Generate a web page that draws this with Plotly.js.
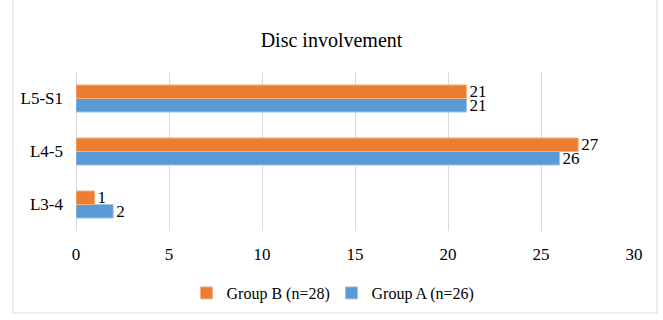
<!DOCTYPE html>
<html>
<head>
<meta charset="utf-8">
<script src="https://cdn.plot.ly/plotly-3.0.1.min.js"></script>
<style>
  html, body { margin: 0; padding: 0; background: #fff; }
  #chart { width: 663px; height: 320px; }
</style>
</head>
<body>
<div id="chart"></div>
<script>
const categories = ['L3-4', 'L4-5', 'L5-S1'];
const groupA = [2, 26, 21];   // Group A (n=26)
const groupB = [1, 27, 21];   // Group B (n=28)
const seriesNames = ['Group A (n=26)', 'Group B (n=28)'];
const xTicks = [0, 5, 10, 15, 20, 25, 30];
const chartTitle = 'Disc involvement';

const serif = 'Times New Roman';

const traces = [
  {
    type: 'bar', orientation: 'h',
    name: seriesNames[0],
    y: categories, x: groupA,
    marker: { color: '#5B9BD5', line: { color: '#9DC3E6', width: 1 } },
    text: groupA.map(String), textposition: 'outside', constraintext: 'none',
    textfont: { family: serif, size: 17, color: '#000' },
    cliponaxis: false, hoverinfo: 'x+name'
  },
  {
    type: 'bar', orientation: 'h',
    name: seriesNames[1],
    y: categories, x: groupB,
    marker: { color: '#ED7D31', line: { color: '#F4B183', width: 1 } },
    text: groupB.map(String), textposition: 'outside', constraintext: 'none',
    textfont: { family: serif, size: 17, color: '#000' },
    cliponaxis: false, hoverinfo: 'x+name'
  }
];

const L = 76, R = 29, T = 72, B = 89, W = 663, H = 320;
const pw = W - L - R, ph = H - T - B;

const layout = {
  width: W, height: H,
  margin: { l: L, r: R, t: T, b: B, pad: 0 },
  paper_bgcolor: '#fff', plot_bgcolor: '#fff',
  font: { family: serif, size: 17, color: '#000' },
  title: {
    text: chartTitle,
    font: { family: serif, size: 20, color: '#000' },
    x: 0.5, xanchor: 'center',
    y: 1 - 40 / H, yanchor: 'middle', yref: 'container'
  },
  barmode: 'group', bargap: 0.49, bargroupgap: 0,
  xaxis: {
    range: [0, 30], tickvals: xTicks, ticktext: xTicks.map(String),
    showgrid: true, gridcolor: '#d9d9d9', gridwidth: 1,
    zeroline: true, zerolinecolor: '#d9d9d9', zerolinewidth: 1,
    showline: false, ticks: '', ticklabelstandoff: 11,
    tickfont: { family: serif, size: 17, color: '#000' },
    fixedrange: true
  },
  yaxis: {
    type: 'category', categoryorder: 'array', categoryarray: categories,
    showgrid: false, zeroline: false, showline: false, ticks: '',
    ticklabelstandoff: 12,
    tickfont: { family: serif, size: 17, color: '#000' },
    fixedrange: true
  },
  legend: {
    orientation: 'h', traceorder: 'reversed',
    x: 0.5, xanchor: 'center', xref: 'container',
    y: 1 - 293 / H, yanchor: 'middle', yref: 'container',
    font: { family: serif, size: 16, color: '#000' },
    itemwidth: 30, entrywidth: 100, entrywidthmode: 'pixels'
  },
  showlegend: true,
  shapes: [{
    type: 'rect', xref: 'paper', yref: 'paper',
    x0: (13 - L) / pw, x1: (657 - L) / pw,
    y0: (H - T - 330) / ph, y1: (H - T - 10) / ph,
    line: { color: '#d9d9d9', width: 1 }, fillcolor: 'rgba(0,0,0,0)',
    layer: 'below'
  }]
};

Plotly.newPlot('chart', traces, layout, { displayModeBar: false, staticPlot: true });
</script>
</body>
</html>
